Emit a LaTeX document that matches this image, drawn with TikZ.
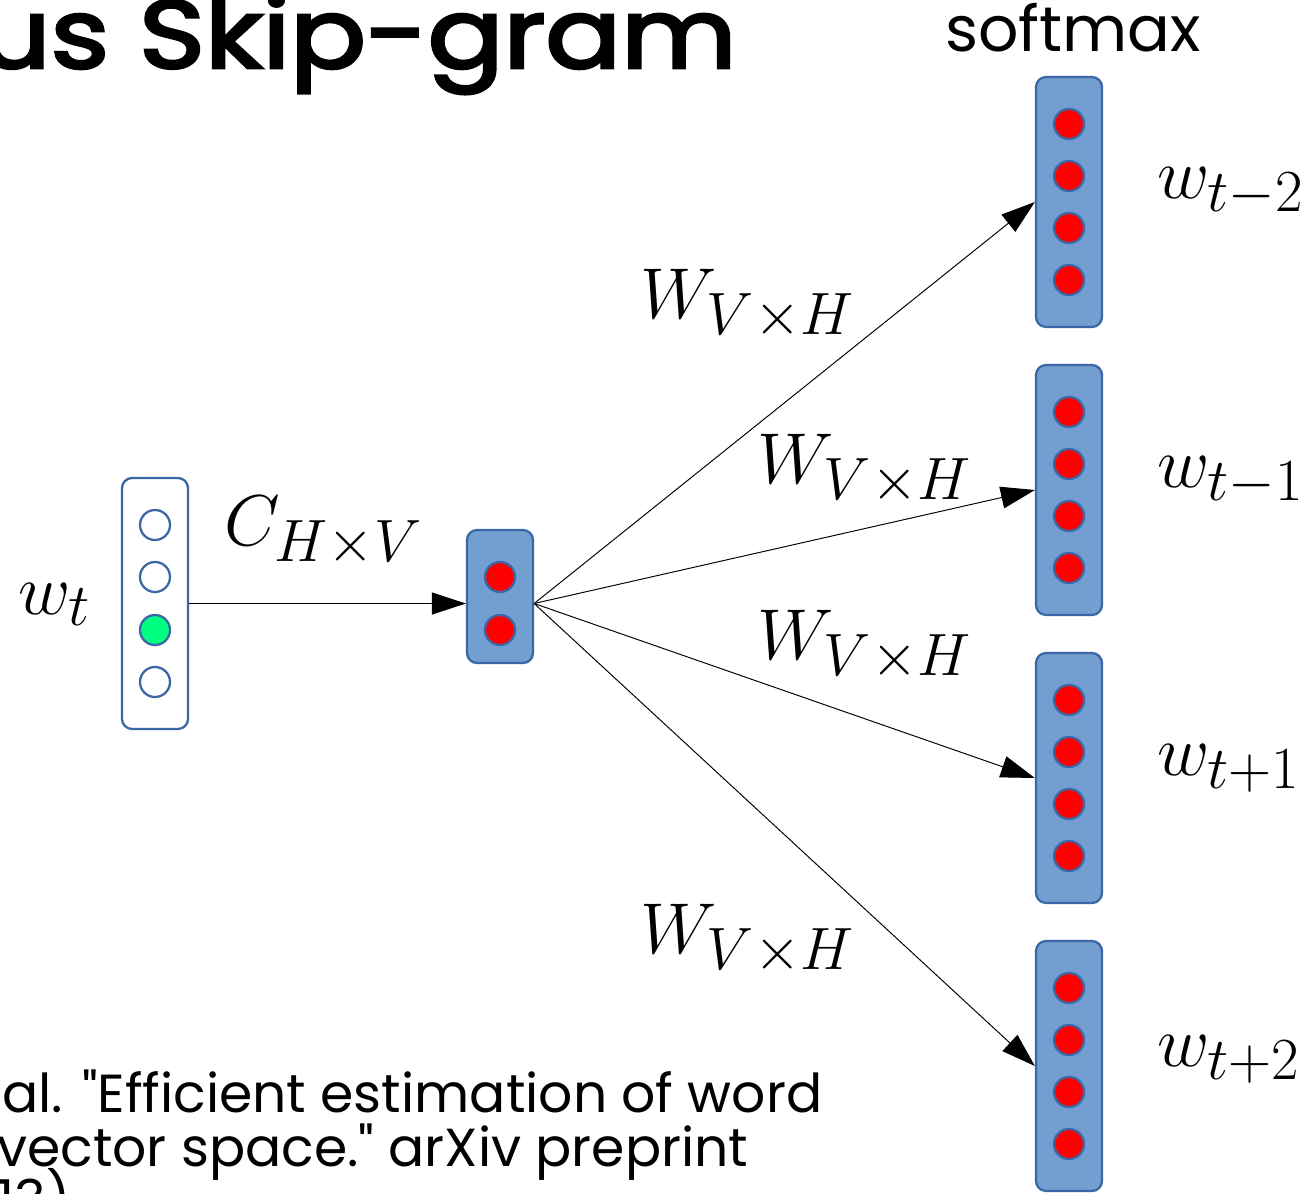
\documentclass[tikz,border=0pt]{standalone}
\usepackage{fix-cm}
\usepackage[no-math]{fontspec}
\usetikzlibrary{arrows.meta}
\newfontfamily\slidefont{Poppins}
\newfontfamily\slidetitlefont[FakeBold=3]{Poppins}
\DeclareMathSizes{41}{41}{34}{25}
\definecolor{cellfill}{HTML}{729FD0}
\definecolor{celledge}{HTML}{3B67A6}
\definecolor{hotred}{HTML}{FF0000}
\definecolor{hotgreen}{HTML}{00FF80}
\tikzset{
  layerbox/.style={draw=celledge, line width=1.3pt, rounded corners=0.2cm,
    minimum width=1.32cm, inner sep=0pt},
  unit/.style={circle, draw=celledge, line width=1.3pt, minimum size=0.6cm, inner sep=0pt},
  onunit/.style={unit, fill=hotred},
  offunit/.style={unit, fill=white},
  hotunit/.style={unit, fill=hotgreen},
  conn/.style={draw=black, line width=0.55pt,
    -{Triangle[length=0.68cm, width=0.44cm]}},
  mathlbl/.style={anchor=base west, inner sep=0pt, font=\fontsize{41}{48}\selectfont},
  slidetxt/.style={inner sep=0pt, font=\slidefont},
  citetxt/.style={slidetxt, anchor=base west, font=\slidefont\fontsize{30.5}{36}\selectfont}
}
\begin{document}
\begin{tikzpicture}[x=0.02cm, y=-0.02cm]
\useasboundingbox (0,0) rectangle (1311,1193);
\clip (0,0) rectangle (1311,1193);

% slide title and reference text
\node[slidetxt, anchor=base east, xscale=1.16, font=\slidetitlefont\fontsize{55}{64}\selectfont] (title) at (737,68) {us Skip-gram};
\node[slidetxt, anchor=base west, font=\slidefont\fontsize{36}{44}\selectfont] (smax) at (945,52) {softmax};
\node[citetxt] (cite1) at (2,1112) {al. "Efficient estimation of word};
\node[citetxt] (cite2) at (-3,1166) {vector space." arXiv preprint};
\node[citetxt] (cite3) at (-3,1218) {13)};

% input one-hot layer
\node[layerbox, fill=white, minimum height=5.02cm] (inp) at (155,603.5) {};
\node[offunit] (i1) at (155,525) {};
\node[offunit] (i2) at (155,577) {};
\node[hotunit] (i3) at (155,630) {};
\node[offunit] (i4) at (155,682) {};

% hidden layer
\node[layerbox, fill=cellfill, minimum height=2.66cm] (hid) at (500,596.5) {};
\node[onunit] (h1) at (500,577) {};
\node[onunit] (h2) at (500,630) {};

% output layers
\foreach \k/\yc in {1/202, 2/490, 3/778, 4/1066} {
  \node[layerbox, fill=cellfill, minimum height=5cm] (out\k) at (1069,\yc) {};
  \foreach \j/\dy in {1/-78, 2/-26, 3/26, 4/78}
    \node[onunit] (o\k\j) at (1069,\yc+\dy) {};
}

% connectors
\coordinate (src) at (inp.east);
\coordinate (fan) at (hid.east |- src);
\draw[conn] (src) -- (hid.west |- src);
\foreach \k in {1,...,4}
  \draw[conn] (fan) -- (out\k.west);

% labels
\node[mathlbl] (wt) at (18,614) {$w_t$};
\node[mathlbl] (cl) at (224,545) {$C_{H\times V}$};
\node[mathlbl] (wl1) at (640,318) {$W_{V\times H}$};
\node[mathlbl] (wl2) at (757,483) {$W_{V\times H}$};
\node[mathlbl] (wl3) at (757,659) {$W_{V\times H}$};
\node[mathlbl] (wl4) at (640,953) {$W_{V\times H}$};
\node[mathlbl] (y1) at (1157,198) {$w_{t-2}$};
\node[mathlbl] (y2) at (1157,487) {$w_{t-1}$};
\node[mathlbl] (y3) at (1157,775) {$w_{t+1}$};
\node[mathlbl] (y4) at (1157,1066) {$w_{t+2}$};
\end{tikzpicture}
\end{document}
